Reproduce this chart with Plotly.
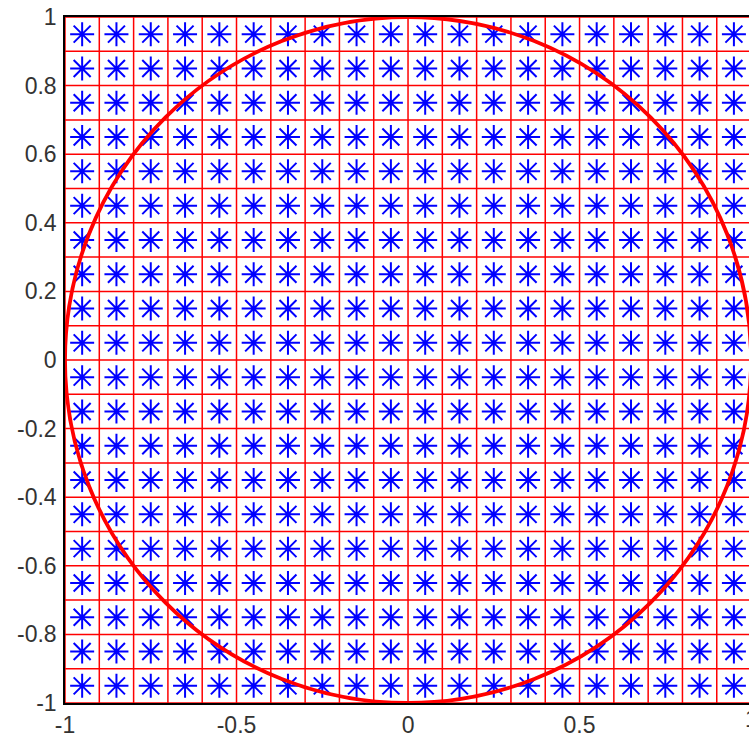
import plotly.graph_objects as go

# Data
x_centers = [-0.95, -0.85, -0.75, -0.65, -0.55, -0.45, -0.35, -0.25, -0.15, -0.05,
             0.05, 0.15, 0.25, 0.35, 0.45, 0.55, 0.65, 0.75, 0.85, 0.95]
y_centers = list(x_centers)
grid_positions = [-1.0, -0.9, -0.8, -0.7, -0.6, -0.5, -0.4, -0.3, -0.2, -0.1, 0.0,
                  0.1, 0.2, 0.3, 0.4, 0.5, 0.6, 0.7, 0.8, 0.9, 1.0]
x_ticks = [-1.0, -0.5, 0.0, 0.5, 1.0]
x_tick_labels = ["-1", "-0.5", "0", "0.5", "1"]
y_ticks = [-1.0, -0.8, -0.6, -0.4, -0.2, 0.0, 0.2, 0.4, 0.6, 0.8, 1.0]
y_tick_labels = ["-1", "-0.8", "-0.6", "-0.4", "-0.2", "0", "0.2", "0.4", "0.6", "0.8", "1"]
circle_radius = 1.0
x_min, x_max_visible = -1.0, 0.994  # the window cuts the axes just before x = 1

px = [xc for yc in y_centers for xc in x_centers]
py = [yc for yc in y_centers for xc in x_centers]

# grid lines (one trace, segments separated by None)
gx, gy = [], []
for g in grid_positions:
    gx += [g, g, None]
    gy += [-1.0, 1.0, None]
    gx += [-1.0, 1.0, None]
    gy += [g, g, None]

FONT = dict(family="Liberation Sans, Arial, sans-serif", size=23, color="#333333")

fig = go.Figure()
fig.add_trace(go.Scatter(x=gx, y=gy, mode="lines",
                         line=dict(color="#ff0000", width=1.5),
                         hoverinfo="skip", showlegend=False, cliponaxis=True))
fig.add_trace(go.Scatter(
    x=px, y=py, mode="markers",
    marker=dict(symbol="asterisk-open", size=20, color="#0000ff",
                line=dict(color="#0000ff", width=2)),
    hoverinfo="skip", showlegend=False))

fig.add_shape(type="circle", xref="x", yref="y",
              x0=-circle_radius, x1=circle_radius, y0=-circle_radius, y1=circle_radius,
              line=dict(color="#ff0000", width=3.8), layer="above")

# the x tick label "1" sits just past the visible right edge of the axes
fig.add_annotation(x=(x_ticks[-1] - x_min) / (x_max_visible - x_min), xref="paper",
                   y=0, yref="paper", yanchor="top", xanchor="center", yshift=-1,
                   text=x_tick_labels[-1], showarrow=False, font=FONT)

fig.update_layout(
    width=749, height=736,
    margin=dict(l=65, r=0, t=17, b=33, autoexpand=False),
    paper_bgcolor="white", plot_bgcolor="white",
    font=FONT, showlegend=False,
)
common = dict(showgrid=False, zeroline=False, showline=True, linecolor="#000000",
              linewidth=1.5, ticks="", fixedrange=True, ticklabeloverflow="allow",
              automargin=False)
fig.update_xaxes(range=[x_min, x_max_visible], tickvals=x_ticks, ticktext=x_tick_labels,
                 mirror=True, ticklabelstandoff=1, **common)
fig.update_yaxes(range=[-1, 1], tickvals=y_ticks, ticktext=y_tick_labels,
                 mirror=False, ticklabelstandoff=2, **common)

fig.write_html("out.html", config={"displayModeBar": False},
               post_script="document.body.style.margin='0';document.body.style.overflow='hidden';")
